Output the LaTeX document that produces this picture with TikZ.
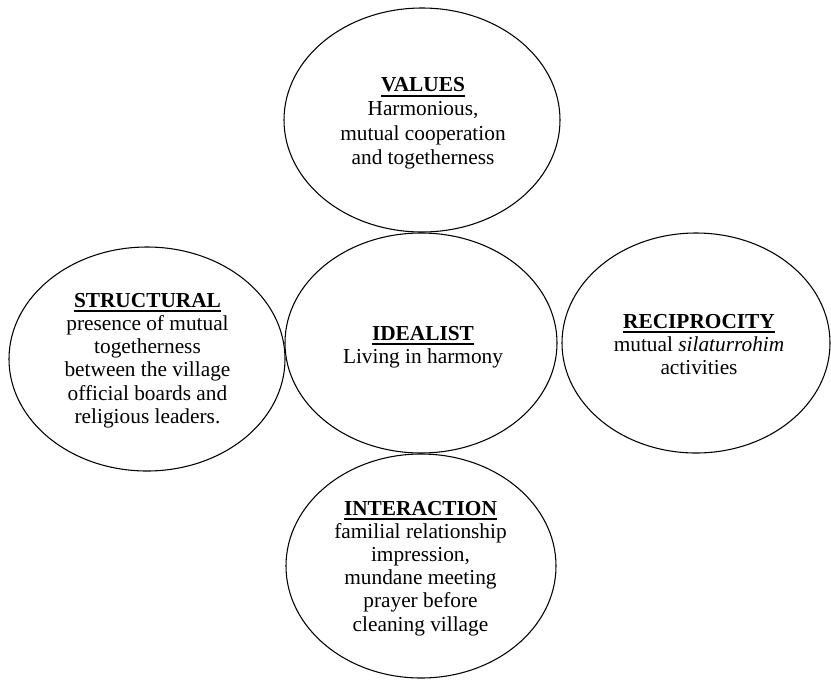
\documentclass[tikz,border=0pt]{standalone}
\usepackage{fontspec}
\setmainfont{Liberation Serif}
\usetikzlibrary{shapes.geometric}
\newcommand{\ulhead}[1]{{\bfseries\setbox0=\hbox{#1}\rlap{\rule[-3.6pt]{\wd0}{1.5pt}}\box0}}
\newcommand{\bodyA}{\fontsize{16}{17.4}\selectfont}
\newcommand{\bodyB}{\fontsize{16}{18.2}\selectfont}
\begin{document}
\begin{tikzpicture}[x=0.75pt,y=-0.75pt,
  oval/.style={draw, ellipse, inner sep=0pt, line width=0.8pt},
  txt/.style={anchor=base, inner sep=0pt}]
\useasboundingbox (0,0) rectangle (831,679);
% ellipses
\node[oval, minimum width=207pt, minimum height=168pt] (values) at (422,120) {};
\node[oval, minimum width=204pt, minimum height=165pt] (idealist) at (421,343) {};
\node[oval, minimum width=207pt, minimum height=168pt] (structural) at (147,359) {};
\node[oval, minimum width=201pt, minimum height=165pt] (reciprocity) at (696,343) {};
\node[oval, minimum width=202.5pt, minimum height=168pt] (interaction) at (421,566) {};
% texts
\node[txt] (valuestext) at (423,91.7) {\bodyB\begin{tabular}[t]{@{}c@{}}\ulhead{VALUES}\\Harmonious,\\mutual cooperation\\and togetherness\end{tabular}};
\node[txt] (idealisttext) at (423,340) {\bodyA\begin{tabular}[t]{@{}c@{}}\ulhead{IDEALIST}\\Living in harmony\end{tabular}};
\node[txt] (structuraltext) at (147.5,307.3) {\bodyA\begin{tabular}[t]{@{}c@{}}\ulhead{STRUCTURAL}\\presence of mutual\\togetherness\\between the village\\official boards and\\religious leaders.\end{tabular}};
\node[txt] (reciprocitytext) at (699,328.3) {\bodyA\begin{tabular}[t]{@{}c@{}}\ulhead{RECIPROCITY}\\mutual \textit{silaturrohim}\\activities\end{tabular}};
\node[txt] (interactiontext) at (420.5,515) {\bodyA\begin{tabular}[t]{@{}c@{}}\ulhead{INTERACTION}\\familial relationship\\impression,\\mundane meeting\\prayer before\\cleaning village\end{tabular}};
\end{tikzpicture}
\end{document}
